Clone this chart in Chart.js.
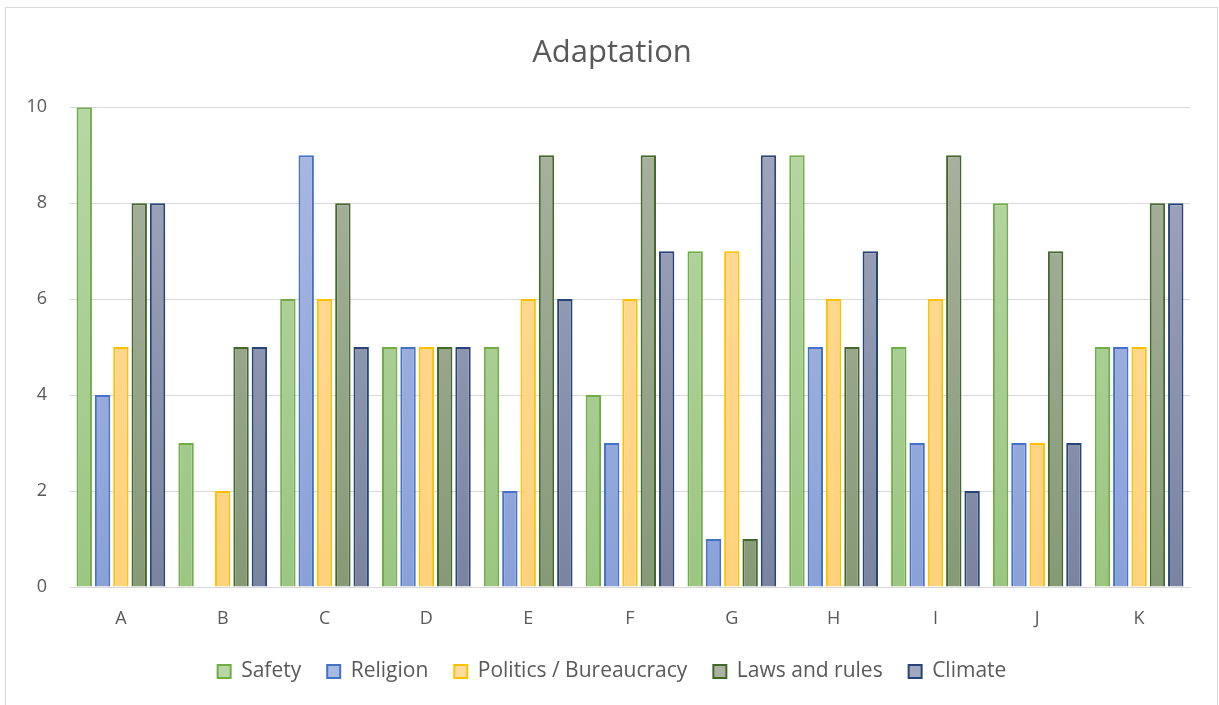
<!DOCTYPE html>
<html>
<head>
<meta charset="utf-8">
<script src="https://cdn.jsdelivr.net/npm/chart.js@4/dist/chart.umd.min.js"></script>
<style>
  html, body { margin: 0; padding: 0; background: #fff; }
  #wrap { position: relative; width: 1219px; height: 705px; }
</style>
</head>
<body>
<div id="wrap"><canvas id="c" width="1219" height="705"></canvas></div>
<script>
// Categories and series scores
const categories = ['A', 'B', 'C', 'D', 'E', 'F', 'G', 'H', 'I', 'J', 'K'];
const safety    = [10, 3, 6, 5, 5, 4, 7, 9, 5, 8, 5];
const religion  = [4, 0, 9, 5, 2, 3, 1, 5, 3, 3, 5];
const politics  = [5, 2, 6, 5, 6, 6, 7, 6, 6, 3, 5];
const laws      = [8, 5, 8, 5, 9, 9, 1, 5, 9, 7, 8];
const climate   = [8, 5, 5, 5, 6, 7, 9, 7, 2, 3, 8];
const yTicks    = [0, 2, 4, 6, 8, 10];

const FONT = "'Open Sans', 'Noto Sans', sans-serif";
const TEXT = '#595959';

// Per-series styling: border colour and vertical gradient stops (top, bottom)
const styles = [
  { label: 'Safety',                 data: safety,   border: '#70AD47', top: '#B7D7A6', bottom: '#9BC682' },
  { label: 'Religion',               data: religion, border: '#4472C4', top: '#AAB9E1', bottom: '#8AA1D8' },
  { label: 'Politics / Bureaucracy', data: politics, border: '#FFC000', top: '#FFDB9C', bottom: '#FFD27C' },
  { label: 'Laws and rules',         data: laws,     border: '#43682B', top: '#AAB3A2', bottom: '#869A76' },
  { label: 'Climate',                data: climate,  border: '#264478', top: '#A2A8BE', bottom: '#7A849F' }
];

function gradientFor(s) {
  return function (ctx) {
    const chart = ctx.chart;
    const area = chart.chartArea;
    if (!area) return s.bottom;
    const g = chart.ctx.createLinearGradient(0, area.top, 0, area.bottom);
    g.addColorStop(0, s.top);
    g.addColorStop(1, s.bottom);
    return g;
  };
}

// Thin frame around the whole chart; title and legend centred on the frame
const framePlugin = {
  id: 'frame',
  afterLayout(chart) {
    if (chart.titleBlock) chart.titleBlock.left = 34;
    if (chart.legend) chart.legend.left = 34;
  },
  beforeDraw(chart) {
    const c = chart.ctx;
    c.save();
    c.fillStyle = '#fff';
    c.fillRect(0, 0, chart.width, chart.height);
    c.strokeStyle = '#D9D9D9';
    c.lineWidth = 1;
    c.strokeRect(5.5, 7.5, chart.width - 7, chart.height + 10);
    c.restore();
  }
};

new Chart(document.getElementById('c'), {
  type: 'bar',
  data: {
    labels: categories,
    datasets: styles.map(s => ({
      label: s.label,
      data: s.data,
      backgroundColor: gradientFor(s),
      borderColor: s.border,
      borderWidth: 2,
      borderSkipped: 'bottom',
      categoryPercentage: 0.9,
      barPercentage: 0.84
    }))
  },
  options: {
    responsive: false,
    animation: false,
    layout: { padding: { top: 23, right: 29, bottom: 13, left: 0 } },
    plugins: {
      title: {
        display: true,
        text: 'Adaptation',
        color: TEXT,
        font: { family: FONT, size: 31, weight: 'normal' },
        padding: { top: 12, bottom: 35 }
      },
      legend: {
        position: 'bottom',
        labels: {
          color: TEXT,
          font: { family: FONT, size: 21 },
          boxWidth: 13,
          boxHeight: 13,
          padding: 26,
          generateLabels(chart) {
            return styles.map((s, i) => ({
              text: s.label,
              fillStyle: s.top,
              strokeStyle: s.border,
              lineWidth: 2,
              fontColor: TEXT,
              datasetIndex: i,
              hidden: false
            }));
          }
        }
      },
      tooltip: { enabled: false }
    },
    scales: {
      x: {
        afterFit(scale) { scale.height = 48; },
        grid: { display: false, drawTicks: false },
        border: { display: true, color: '#D9D9D9', width: 1 },
        ticks: { color: TEXT, font: { family: FONT, size: 18 }, padding: 21 }
      },
      y: {
        min: 0,
        max: 10,
        afterFit(scale) { scale.width = 70; },
        afterBuildTicks(scale) { scale.ticks = yTicks.map(v => ({ value: v })); },
        grid: { color: '#D9D9D9', lineWidth: 1, drawTicks: false },
        border: { display: false },
        ticks: { color: TEXT, font: { family: FONT, size: 18 }, padding: 23 }
      }
    }
  },
  plugins: [framePlugin]
});
</script>
</body>
</html>
